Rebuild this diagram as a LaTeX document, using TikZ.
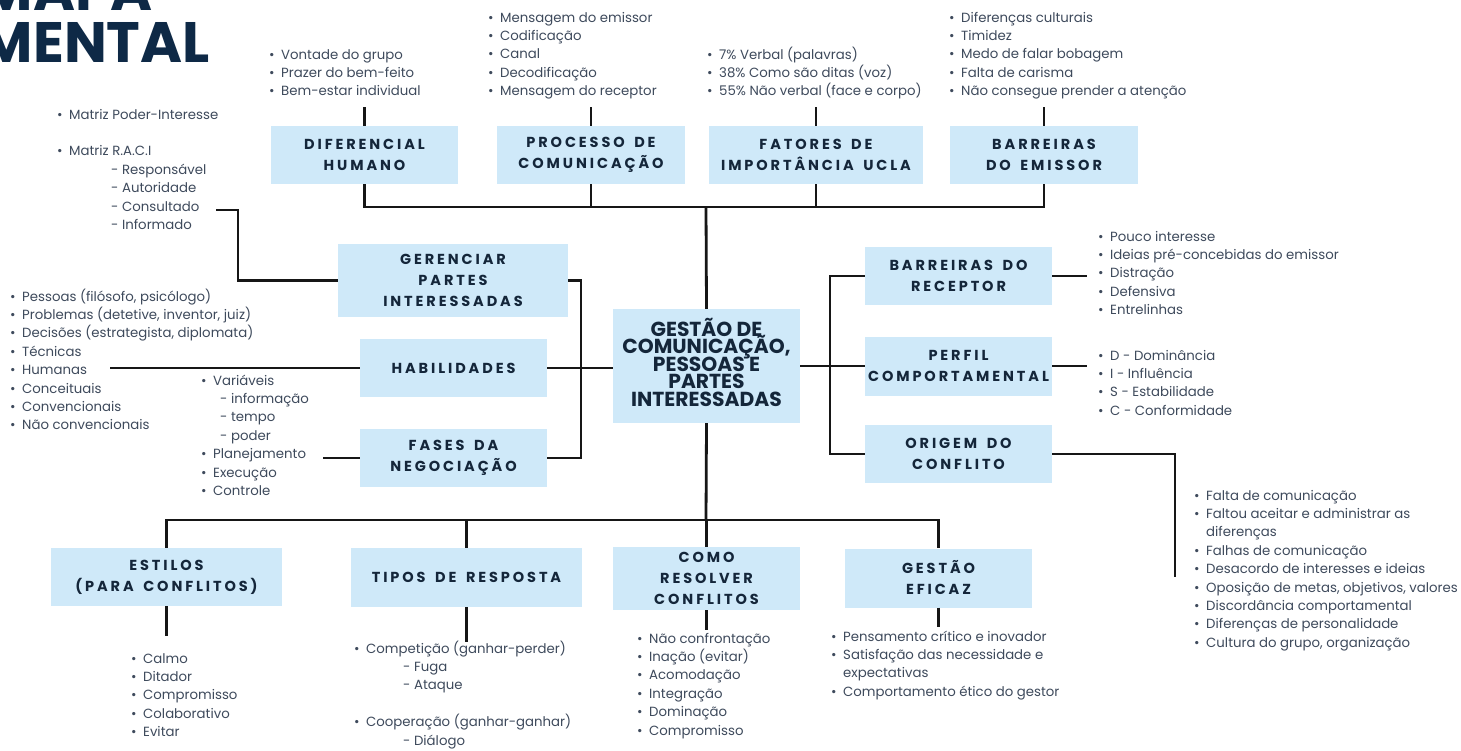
\documentclass[tikz,border=0pt]{standalone}
\usepackage{fontspec}
\setmainfont{Poppins}
\newfontfamily\hdrfont{Poppins}[LetterSpace=20,WordSpace=1.6]
\definecolor{boxblue}{RGB}{207,233,249}
\definecolor{navy}{RGB}{20,38,58}
\definecolor{bodytxt}{RGB}{62,74,92}
\definecolor{linec}{RGB}{22,22,22}
\definecolor{titlec}{RGB}{14,41,70}
\newcommand{\bl}[1]{\strut\makebox[12pt][l]{•}#1}
\newcommand{\subi}[2]{\strut\hspace*{#1}#2}
\newcommand{\cenfont}{\bfseries\fontsize{20.3}{17.5}\selectfont\lineskiplimit=-100pt\relax}
\tikzset{
  box/.style={fill=boxblue, text=navy, inner sep=0, align=center,
    font=\hdrfont\bfseries\fontsize{14.5}{21}\selectfont},
  lst/.style={anchor=north west, inner sep=0, align=left, text=bodytxt,
    font=\fontsize{13.3}{18.4}\selectfont},
  conn/.style={draw=linec, line width=2.8pt},
  titletxt/.style={inner sep=0, text=titlec, font=\bfseries\fontsize{57}{57}\selectfont}
}
\begin{document}
\begin{tikzpicture}[x=1pt,y=-1pt]
\useasboundingbox (0,0) rectangle (1461,751);
\clip (0,0) rectangle (1461,751);
\fill[white] (0,0) rectangle (1461,751);
% title
\node[titletxt, anchor=base east] (mental) at (210,63) {MENTAL};
\node[titletxt, anchor=base west] (mapa) at ([yshift=52pt]mental.base west) {MAPA};
% boxes
\node[box, minimum width=187, minimum height=58] (dif) at (364.5,155) {DIFERENCIAL\\HUMANO};
\node[box, minimum width=188, minimum height=58] (proc) at (591,155) {PROCESSO DE\\COMUNICAÇÃO};
\node[box, minimum width=214, minimum height=58] (fat) at (816,155) {FATORES DE\\IMPORTÂNCIA UCLA};
\node[box, minimum width=188, minimum height=58] (emi) at (1044,155) {BARREIRAS\\DO EMISSOR};
\node[box, minimum width=230, minimum height=73] (ger) at (453,280.5) {GERENCIAR\\PARTES\\INTERESSADAS};
\node[box, minimum width=187, minimum height=58] (hab) at (453.5,368) {HABILIDADES};
\node[box, minimum width=187, minimum height=58] (fas) at (453.5,458) {FASES DA\\NEGOCIAÇÃO};
\node[box, minimum width=187, minimum height=114, font=\cenfont] (cen) at (706.5,366) {GESTÃO DE\\COMUNICAÇÃO,\\PESSOAS E\\PARTES\\INTERESSADAS\rule[-8pt]{0pt}{8pt}};
\node[box, minimum width=187, minimum height=58] (rec) at (958.5,276) {BARREIRAS DO\\RECEPTOR};
\node[box, minimum width=187, minimum height=59] (per) at (958.5,366) {PERFIL\\COMPORTAMENTAL};
\node[box, minimum width=187, minimum height=58] (ori) at (958.5,454) {ORIGEM DO\\CONFLITO};
\node[box, minimum width=231, minimum height=58] (est) at (166.5,577) {ESTILOS\\(PARA CONFLITOS)};
\node[box, minimum width=231, minimum height=59] (tip) at (466.5,577.5) {TIPOS DE RESPOSTA};
\node[box, minimum width=187, minimum height=63] (como) at (706.5,578.5) {COMO\\RESOLVER\\CONFLITOS};
\node[box, minimum width=187, minimum height=59] (gef) at (938.5,578) {GESTÃO\\EFICAZ};
% lists
\node[lst] (ldif) at (269,46) {\bl{Vontade do grupo}\\\bl{Prazer do bem-feito}\\\bl{Bem-estar individual}};
\node[lst] (lproc) at (488,9) {\bl{Mensagem do emissor}\\\bl{Codificação}\\\bl{Canal}\\\bl{Decodificação}\\\bl{Mensagem do receptor}};
\node[lst] (lfat) at (707,46) {\bl{7\% Verbal (palavras)}\\\bl{38\% Como são ditas (voz)}\\\bl{55\% Não verbal (face e corpo)}};
\node[lst] (lemi) at (949,9) {\bl{Diferenças culturais}\\\bl{Timidez}\\\bl{Medo de falar bobagem}\\\bl{Falta de carisma}\\\bl{Não consegue prender a atenção}};
\node[lst] (lmat) at (57,106) {\bl{Matriz Poder-Interesse}\\\strut\\\bl{Matriz R.A.C.I}\\\subi{54pt}{- Responsável}\\\subi{54pt}{- Autoridade}\\\subi{54pt}{- Consultado}\\\subi{54pt}{- Informado}};
\node[lst] (lhab) at (10,288) {\bl{Pessoas (filósofo, psicólogo)}\\\bl{Problemas (detetive, inventor, juiz)}\\\bl{Decisões (estrategista, diplomata)}\\\bl{Técnicas}\\\bl{Humanas}\\\bl{Conceituais}\\\bl{Convencionais}\\\bl{Não convencionais}};
\node[lst] (lfas) at (201,372) {\bl{Variáveis}\\\subi{19pt}{- informação}\\\subi{19pt}{- tempo}\\\subi{19pt}{- poder}\\\bl{Planejamento}\\\bl{Execução}\\\bl{Controle}};
\node[lst] (lrec) at (1098,228) {\bl{Pouco interesse}\\\bl{Ideias pré-concebidas do emissor}\\\bl{Distração}\\\bl{Defensiva}\\\bl{Entrelinhas}};
\node[lst] (lper) at (1098,347) {\bl{D - Dominância}\\\bl{I - Influência}\\\bl{S - Estabilidade}\\\bl{C - Conformidade}};
\node[lst] (lori) at (1194,487) {\bl{Falta de comunicação}\\\bl{Faltou aceitar e administrar as}\\\subi{12pt}{diferenças}\\\bl{Falhas de comunicação}\\\bl{Desacordo de interesses e ideias}\\\bl{Oposição de metas, objetivos, valores}\\\bl{Discordância comportamental}\\\bl{Diferenças de personalidade}\\\bl{Cultura do grupo, organização}};
\node[lst] (lest) at (131,650) {\bl{Calmo}\\\bl{Ditador}\\\bl{Compromisso}\\\bl{Colaborativo}\\\bl{Evitar}};
\node[lst] (ltip) at (354,640) {\bl{Competição (ganhar-perder)}\\\subi{49pt}{- Fuga}\\\subi{49pt}{- Ataque}\\\strut\\\bl{Cooperação (ganhar-ganhar)}\\\subi{49pt}{- Diálogo}};
\node[lst] (lcomo) at (637,630) {\bl{Não confrontação}\\\bl{Inação (evitar)}\\\bl{Acomodação}\\\bl{Integração}\\\bl{Dominação}\\\bl{Compromisso}};
\node[lst] (lgef) at (831,628) {\bl{Pensamento crítico e inovador}\\\bl{Satisfação das necessidade e}\\\subi{12pt}{expectativas}\\\bl{Comportamento ético do gestor}};
% coordinates for free ends and junctions
\coordinate (tb) at (706,207);
\coordinate (bb) at (706,520);
\coordinate (lb) at (581,368);
\coordinate (rb) at (830,366);
\coordinate (raci) at (216,210);
\coordinate (habl) at (110,368);
\coordinate (fasl) at (323,458);
\coordinate (oril) at (1175,577);
% top connectors
\draw[conn] (dif.north) -- ++(0,-19);
\draw[conn] (proc.north) -- ++(0,-19);
\draw[conn] (fat.north) -- ++(0,-19);
\draw[conn] (emi.north) -- ++(0,-19);
\draw[conn] (dif.south) |- (tb) -| (emi.south);
\draw[conn] (proc.south) -- (proc.south |- tb);
\draw[conn] (fat.south) -- (fat.south |- tb);
\draw[conn] (tb) -- (cen.north);
% left connectors
\draw[conn] (ger.west) -| ([xshift=22pt]raci) -- (raci);
\draw[conn] (ger.east) -| (lb |- fas.east) -- (fas.east);
\draw[conn] (hab.east) -- (hab.east -| cen.west);
\draw[conn] (hab.west) -- (habl);
\draw[conn] (fas.west) -- (fasl);
% right connectors
\draw[conn] (cen.east) -- (cen.east -| per.west);
\draw[conn] (rec.west) -| (rb |- ori.west) -- (ori.west);
\draw[conn] (rec.east) -- ++(35,0);
\draw[conn] (per.east) -- ++(35,0);
\draw[conn] (ori.east) -| (oril);
% bottom connectors
\draw[conn] (cen.south) -- (bb);
\draw[conn] (est.north) |- (bb) -| (gef.north);
\draw[conn] (tip.north) -- (tip.north |- bb);
\draw[conn] (como.north) -- (como.north |- bb);
\draw[conn] (est.south) -- ++(0,30);
\draw[conn] (tip.south) -- ++(0,35);
\draw[conn] (como.south) -- ++(0,20);
\draw[conn] (gef.south) -- ++(0,19);
\end{tikzpicture}
\end{document}
